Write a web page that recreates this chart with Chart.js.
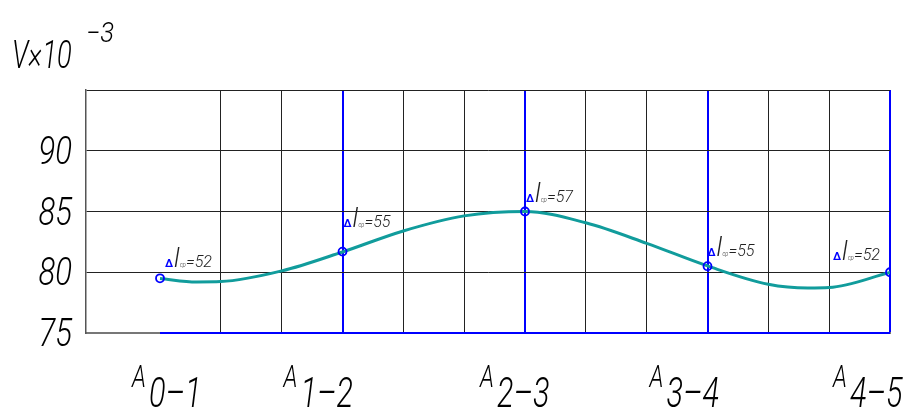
<!DOCTYPE html>
<html><head><meta charset="utf-8">
<script src="https://cdn.jsdelivr.net/npm/chart.js@4"></script>
<style>html,body{margin:0;padding:0;background:#fff}#wrap{width:903px;height:410px;position:relative}</style>
</head><body><div id="wrap"><canvas id="c"></canvas></div>
<script>
// ---- data ----
const categories = ['0–1', '1–2', '2–3', '3–4', '4–5'];
const nodeValues = [79.5, 81.7, 85.0, 80.5, 80.0];
const deltaL = [52, 55, 57, 55, 52];
// curve at the grid columns (in category units)
const curveX = [0, 0.2, 0.333, 0.667, 1, 1.333, 1.667, 2, 2.333, 2.667, 3, 3.333, 3.55, 3.667, 4];
const curveY = [79.48, 79.2, 79.23, 80.11, 81.67, 83.40, 84.64, 85.0, 84.07, 82.38, 80.52, 79.01, 78.7, 78.74, 79.98];
const yTicks = [75, 80, 85, 90];
const yTitle = 'V×10';
const yTitleExp = '−3';

const FONT = "Roboto,'DejaVu Sans',sans-serif";
const BLUE = '#0000ff';

// draws text horizontally compressed by sx (GOST-like narrow lettering)
function txt(ctx, s, x, y, size, sx, align, weight) {
  ctx.save();
  ctx.font = `italic ${weight || 300} ${size}px ${FONT}`;
  const w = ctx.measureText(s).width * sx;
  let x0 = x;
  if (align === 'right') x0 = x - w;
  else if (align === 'center') x0 = x - w / 2;
  ctx.translate(x0, y);
  ctx.scale(sx, 1);
  ctx.textAlign = 'left';
  ctx.fillText(s, 0, 0);
  ctx.restore();
  return w;
}

const deco = {
  id: 'deco',
  afterDraw(chart) {
    const { ctx, scales: { x, y } } = chart;
    ctx.save();
    // blue bottom segment
    ctx.strokeStyle = BLUE; ctx.lineWidth = 2;
    ctx.beginPath();
    ctx.moveTo(x.getPixelForValue(0), y.getPixelForValue(75));
    ctx.lineTo(x.getPixelForValue(4), y.getPixelForValue(75));
    ctx.stroke();

    ctx.fillStyle = '#000';
    ctx.textBaseline = 'alphabetic';
    // y tick labels
    yTicks.forEach(v => txt(ctx, String(v), 72, y.getPixelForValue(v) + 13, 38, 0.82, 'right'));

    // axis title
    txt(ctx, yTitle, 12, 68, 39, 0.7, 'left');
    txt(ctx, yTitleExp, 86, 42, 27, 0.95, 'left');

    // x category labels
    const xOff = [-28, -59, -45, -58, -57];
    categories.forEach((c, i) => {
      const x0 = x.getPixelForValue(i) + xOff[i];
      txt(ctx, 'A', x0, 387, 32, 0.72, 'left');
      txt(ctx, c, x0 + 17, 407, 42, 0.73, 'left');
    });

    // node annotations
    const adx = [5, 1, 1, 0, -57];
    const ady = [-11, -25, -10, -10, -12];
    deltaL.forEach((v, i) => {
      const px = x.getPixelForValue(i), py = y.getPixelForValue(nodeValues[i]);
      const x0 = px + adx[i], b = py + ady[i];
      ctx.fillStyle = BLUE;
      ctx.font = `bold 11px ${FONT}`;
      ctx.fillText('Δ', x0, b);
      ctx.fillStyle = '#222';
      txt(ctx, 'l', x0 + 9, b, 28, 0.9, 'left', 300);
      txt(ctx, 'ср', x0 + 15, b, 7, 0.8, 'left', 300);
      txt(ctx, '=' + v, x0 + 21, b, 17, 0.95, 'left', 300);
    });
    ctx.restore();
  }
};

new Chart(document.getElementById('c'), {
  type: 'line',
  data: {
    datasets: [
      {
        data: curveX.map((v, i) => ({ x: v, y: curveY[i] })),
        borderColor: '#119c9c', borderWidth: 3,
        pointRadius: 0, cubicInterpolationMode: 'monotone', fill: false, order: 2
      },
      {
        data: nodeValues.map((v, i) => ({ x: i, y: v })),
        showLine: false, pointRadius: 4, pointBorderWidth: 1.8,
        pointBorderColor: BLUE, pointBackgroundColor: 'rgba(255,255,255,0)', order: 1
      }
    ]
  },
  options: {
    responsive: true, maintainAspectRatio: false, animation: false,
    layout: { padding: { left: 86, right: 13, top: 90, bottom: 77 } },
    plugins: { legend: { display: false }, tooltip: { enabled: false } },
    scales: {
      x: {
        type: 'linear', min: -0.4055, max: 4,
        afterBuildTicks: s => { s.ticks = [1,2,3,4,5,6,7,8,9,10,11,12].map(k => ({ value: k / 3 })); },
        ticks: { display: false },
        grid: {
          drawTicks: false,
          color: c => (c.tick && Math.abs(c.tick.value - Math.round(c.tick.value)) < 1e-6) ? BLUE : '#222',
          lineWidth: c => (c.tick && Math.abs(c.tick.value - Math.round(c.tick.value)) < 1e-6) ? 2 : 1
        },
        border: { display: true, color: '#777', width: 2 }
      },
      y: {
        min: 75, max: 95,
        afterBuildTicks: s => { s.ticks = [75, 80, 85, 90, 95].map(v => ({ value: v })); },
        ticks: { display: false },
        grid: { drawTicks: false, color: '#222', lineWidth: 1 },
        border: { display: true, color: '#555', width: 1.5 }
      }
    }
  },
  plugins: [deco]
});
</script></body></html>
